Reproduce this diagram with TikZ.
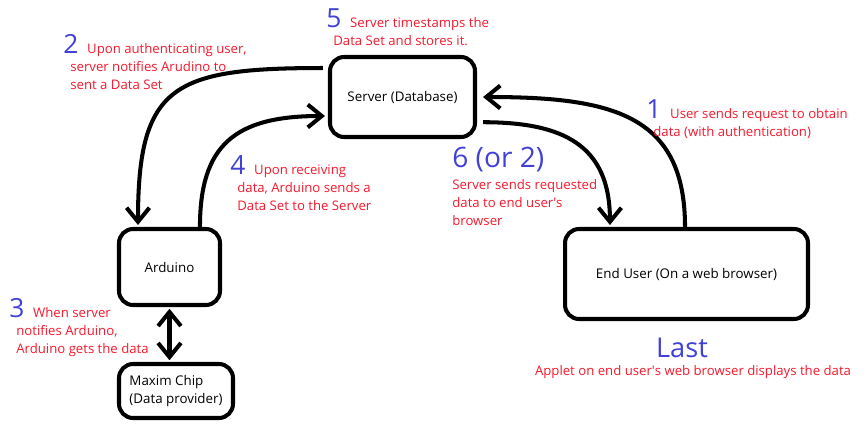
\documentclass[tikz,border=0pt]{standalone}
\usepackage{fontspec}
\setmainfont{Open Sans}
\usetikzlibrary{calc,arrows.meta}
\definecolor{notered}{RGB}{245,25,45}
\definecolor{stepblue}{RGB}{65,65,215}
\newcommand{\stepno}[1]{\hspace*{-4pt}{\color{stepblue}\fontsize{15}{15}\selectfont #1}\hspace{5pt}}

\begin{document}
\begin{tikzpicture}[x=0.02cm,y=-0.02cm,
  >={Straight Barb[length=8pt,width=13pt]},
  flow/.style={line width=2.3pt,->},
  box/.style={draw, line width=2.3pt, rounded corners=8pt, font=\fontsize{7.6}{10.2}\selectfont},
  note/.style={notered, align=left, inner sep=0pt, anchor=base west, font=\fontsize{7.5}{10.2}\selectfont},
  bignum/.style={stepblue, inner sep=0pt, anchor=base west, font=\fontsize{16}{16}\selectfont}]
  \useasboundingbox (0,0) rectangle (865,427);

  \node[box, minimum width=2.9cm, minimum height=1.6cm] (server) at (402.5,97) {Server (Database)};
  \node[box, minimum width=2.02cm, minimum height=1.52cm] (arduino) at (169.5,267) {Arduino};
  \node[box, minimum width=2.28cm, minimum height=1.08cm, align=left] (maxim) at (176,391) {Maxim Chip\\(Data provider)};
  \node[box, minimum width=4.86cm, minimum height=1.8cm] (enduser) at (686.5,274) {End User (On a web browser)};

  \draw[flow] ($(server.north west)!.155!(server.south west)+(-5,0)$) .. controls +(-150,0) and +(0,-140) .. ($(arduino.north west)!.2!(arduino.north east)+(0,-2)$);
  \draw[flow] ($(arduino.north west)!.79!(arduino.north east)$) .. controls +(0,-82) and +(-90,0) .. ($(server.north west)!.726!(server.south west)+(-3,0)$);
  \draw[flow] ($(enduser.north west)!.494!(enduser.north east)$) .. controls +(0,-112) and +(130,0) .. ($(server.east)+(6,0)$);
  \draw[flow] ($(server.north east)!.8!(server.south east)+(6,0)$) .. controls +(80,0) and +(0,-80) .. ($(enduser.north west)!.19!(enduser.north east)+(0,-2)$);
  \draw[flow,<->] ([yshift=-1pt]arduino.south) -- ([yshift=1pt]arduino.south |- maxim.north);

  % multi-line notes sit on the baseline of their last line
  \node[note] (step2) at (70,89) {\stepno{2}Upon authenticating user,\\server notifies Arudino to\\sent a Data Set};
  \node[note] (step5) at (333,45) {\stepno{5}Server timestamps the\\Data Set and stores it.};
  \node[note] (step4) at (237,210) {\stepno{4}Upon receiving\\data, Arduino sends a\\Data Set to the Server};
  \node[note] (step1) at (653,136) {\stepno{1}User sends request to obtain\\data (with authentication)};
  \node[note] (step3) at (16,353) {\stepno{3}When server\\notifies Arduino,\\Arduino gets the data};
  \node[bignum] (step6) at (452,167) {6 (or 2)};
  \node[note] (sends) at (452,225) {Server sends requested\\data to end user\textquotesingle s\\browser};
  \node[bignum, anchor=base, font=\fontsize{15.5}{15.5}\selectfont] (last) at (682,357) {Last};
  \node[note, anchor=base] (applet) at (693,375) {Applet on end user\textquotesingle s web browser displays the data};
\end{tikzpicture}
\end{document}
